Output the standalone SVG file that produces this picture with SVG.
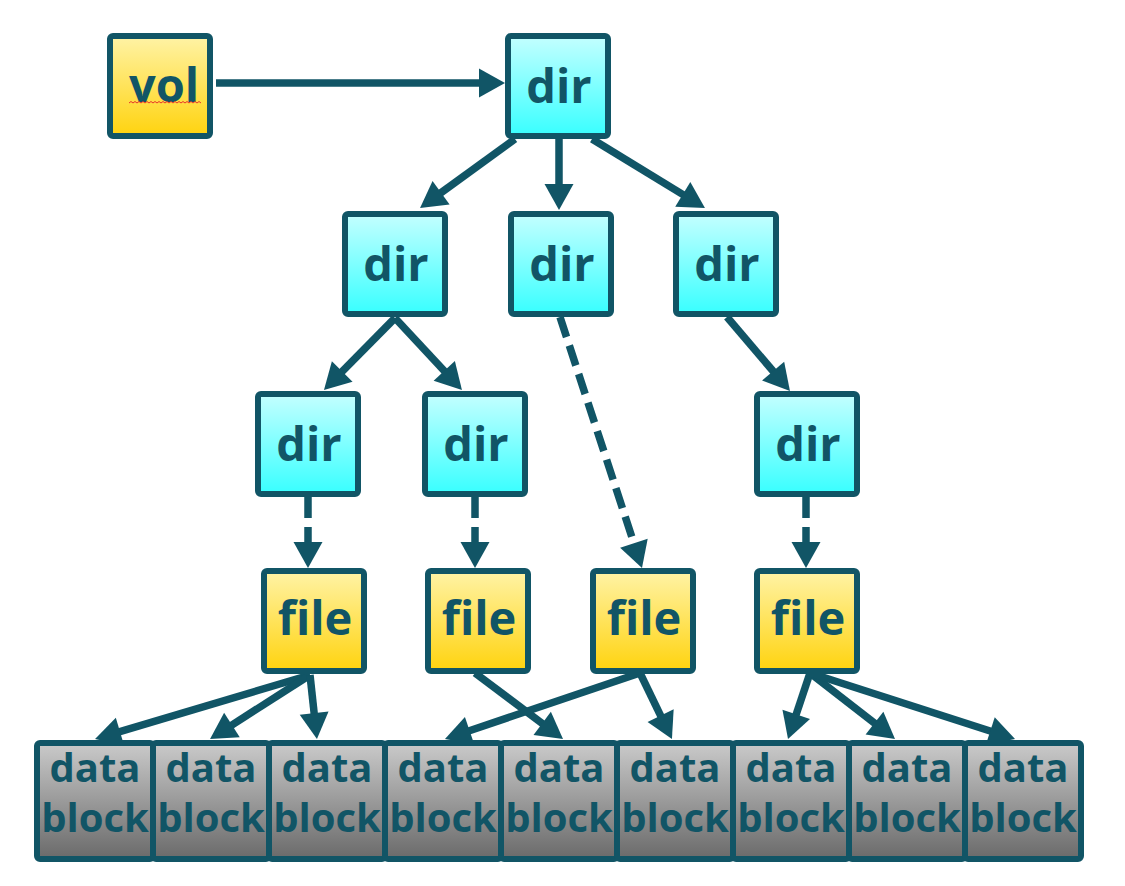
<svg xmlns="http://www.w3.org/2000/svg" width="1125" height="886" viewBox="0 0 1125 886">
  <defs>
    <linearGradient id="gDir" x1="0" y1="0" x2="0" y2="1">
      <stop offset="0" stop-color="#C4FFFF"/>
      <stop offset="1" stop-color="#38FFFF"/>
    </linearGradient>
    <linearGradient id="gFile" x1="0" y1="0" x2="0" y2="1">
      <stop offset="0" stop-color="#FFF3A6"/>
      <stop offset="1" stop-color="#FFD30E"/>
    </linearGradient>
    <linearGradient id="gData" x1="0" y1="0" x2="0" y2="1">
      <stop offset="0" stop-color="#CACACA"/>
      <stop offset="1" stop-color="#6A6A6A"/>
    </linearGradient>
    <marker id="arr" markerUnits="userSpaceOnUse" markerWidth="26" markerHeight="29" refX="8" refY="14.5" orient="auto" overflow="visible">
      <path d="M0,0 L26,14.5 L0,29 Z" fill="#115566"/>
    </marker>
  </defs>
  <style>
    .box { stroke: #115566; stroke-width: 6; }
    .dir { fill: url(#gDir); }
    .file { fill: url(#gFile); }
    .data { fill: url(#gData); }
    .lbl { font-family: "Open Sans", "Noto Sans", "DejaVu Sans", sans-serif; font-weight: bold; fill: #115566; text-anchor: middle; }
    .big { font-size: 47px; }
    .small { font-size: 40px; }
    .conn { stroke: #115566; stroke-width: 7.5; fill: none; marker-end: url(#arr); }
    .dash { stroke-dasharray: 21 9; }
  </style>
  <rect width="1125" height="886" fill="#FFFFFF"/>

  <g id="connectors">
    <line class="conn" x1="216" y1="83" x2="487" y2="83"/>
    <line class="conn" x1="515" y1="139" x2="434.6" y2="197.4"/>
    <line class="conn" x1="559" y1="139" x2="559" y2="192"/>
    <line class="conn" x1="592" y1="139" x2="689.6" y2="198.6"/>
    <line class="conn" x1="395" y1="318" x2="336.6" y2="377.2"/>
    <line class="conn" x1="395" y1="318" x2="449.7" y2="376.8"/>
    <line class="conn dash" x1="560" y1="317" x2="636.4" y2="550.9"/>
    <line class="conn" x1="727" y1="317" x2="778.3" y2="377.3"/>
    <line class="conn dash" x1="308" y1="497" x2="308" y2="550"/>
    <line class="conn dash" x1="475" y1="497" x2="475" y2="550"/>
    <line class="conn dash" x1="806" y1="497" x2="806" y2="550"/>
    <line class="conn" x1="310" y1="675" x2="112.3" y2="733.9"/>
    <line class="conn" x1="310" y1="675" x2="225.2" y2="729.3"/>
    <line class="conn" x1="310" y1="675" x2="315" y2="721.1"/>
    <line class="conn" x1="475" y1="673" x2="548.6" y2="728.2"/>
    <line class="conn" x1="640" y1="673" x2="462" y2="733.2"/>
    <line class="conn" x1="640" y1="673" x2="664.1" y2="722.8"/>
    <line class="conn" x1="810" y1="673" x2="793.7" y2="721.9"/>
    <line class="conn" x1="810" y1="673" x2="880.8" y2="728"/>
    <line class="conn" x1="810" y1="673" x2="997.9" y2="733.5"/>
  </g>

  <g id="vol">
    <rect class="box file" x="110" y="36" width="100" height="100" rx="3"/>
    <text class="lbl big" x="164" y="102">vol</text>
    <path d="M129,103 l2,-1.5 l2,1.5 l2,-1.5 l2,1.5 l2,-1.5 l2,1.5 l2,-1.5 l2,1.5 l2,-1.5 l2,1.5 l2,-1.5 l2,1.5 l2,-1.5 l2,1.5 l2,-1.5 l2,1.5 l2,-1.5 l2,1.5 l2,-1.5 l2,1.5 l2,-1.5 l2,1.5 l2,-1.5 l2,1.5 l2,-1.5 l2,1.5 l2,-1.5 l2,1.5 l2,-1.5 l2,1.5 l2,-1.5 l2,1.5 l2,-1.5 l2,1.5 l2,-1.5 l2,1.5" fill="none" stroke="#E8332A" stroke-width="1"/>
  </g>
  <g id="dir-root">
    <rect class="box dir" x="508" y="36" width="100" height="100" rx="3"/>
    <text class="lbl big" x="559" y="103">dir</text>
  </g>
  <g id="dir-a">
    <rect class="box dir" x="345" y="214" width="100" height="100" rx="3"/>
    <text class="lbl big" x="396" y="281">dir</text>
  </g>
  <g id="dir-b">
    <rect class="box dir" x="511" y="214" width="100" height="100" rx="3"/>
    <text class="lbl big" x="562" y="281">dir</text>
  </g>
  <g id="dir-c">
    <rect class="box dir" x="676" y="214" width="100" height="100" rx="3"/>
    <text class="lbl big" x="727" y="281">dir</text>
  </g>
  <g id="dir-a1">
    <rect class="box dir" x="258" y="394" width="100" height="100" rx="3"/>
    <text class="lbl big" x="309" y="461">dir</text>
  </g>
  <g id="dir-a2">
    <rect class="box dir" x="425" y="394" width="100" height="100" rx="3"/>
    <text class="lbl big" x="476" y="461">dir</text>
  </g>
  <g id="dir-c1">
    <rect class="box dir" x="757" y="394" width="100" height="100" rx="3"/>
    <text class="lbl big" x="808" y="461">dir</text>
  </g>
  <g id="file-1">
    <rect class="box file" x="264" y="571" width="100" height="100" rx="3"/>
    <text class="lbl big" x="315" y="635">file</text>
  </g>
  <g id="file-2">
    <rect class="box file" x="428" y="571" width="100" height="100" rx="3"/>
    <text class="lbl big" x="479" y="635">file</text>
  </g>
  <g id="file-3">
    <rect class="box file" x="593" y="571" width="100" height="100" rx="3"/>
    <text class="lbl big" x="644" y="635">file</text>
  </g>
  <g id="file-4">
    <rect class="box file" x="757" y="571" width="100" height="100" rx="3"/>
    <text class="lbl big" x="808" y="635">file</text>
  </g>

  <g id="block-1"><rect class="box data" x="37" y="743" width="116" height="116" rx="3"/><text class="lbl small" x="95" y="782">data</text><text class="lbl small" x="95" y="832">block</text></g>
  <g id="block-2"><rect class="box data" x="153" y="743" width="116" height="116" rx="3"/><text class="lbl small" x="211" y="782">data</text><text class="lbl small" x="211" y="832">block</text></g>
  <g id="block-3"><rect class="box data" x="269" y="743" width="116" height="116" rx="3"/><text class="lbl small" x="327" y="782">data</text><text class="lbl small" x="327" y="832">block</text></g>
  <g id="block-4"><rect class="box data" x="385" y="743" width="116" height="116" rx="3"/><text class="lbl small" x="443" y="782">data</text><text class="lbl small" x="443" y="832">block</text></g>
  <g id="block-5"><rect class="box data" x="501" y="743" width="116" height="116" rx="3"/><text class="lbl small" x="559" y="782">data</text><text class="lbl small" x="559" y="832">block</text></g>
  <g id="block-6"><rect class="box data" x="617" y="743" width="116" height="116" rx="3"/><text class="lbl small" x="675" y="782">data</text><text class="lbl small" x="675" y="832">block</text></g>
  <g id="block-7"><rect class="box data" x="733" y="743" width="116" height="116" rx="3"/><text class="lbl small" x="791" y="782">data</text><text class="lbl small" x="791" y="832">block</text></g>
  <g id="block-8"><rect class="box data" x="849" y="743" width="116" height="116" rx="3"/><text class="lbl small" x="907" y="782">data</text><text class="lbl small" x="907" y="832">block</text></g>
  <g id="block-9"><rect class="box data" x="965" y="743" width="116" height="116" rx="3"/><text class="lbl small" x="1023" y="782">data</text><text class="lbl small" x="1023" y="832">block</text></g>
</svg>
